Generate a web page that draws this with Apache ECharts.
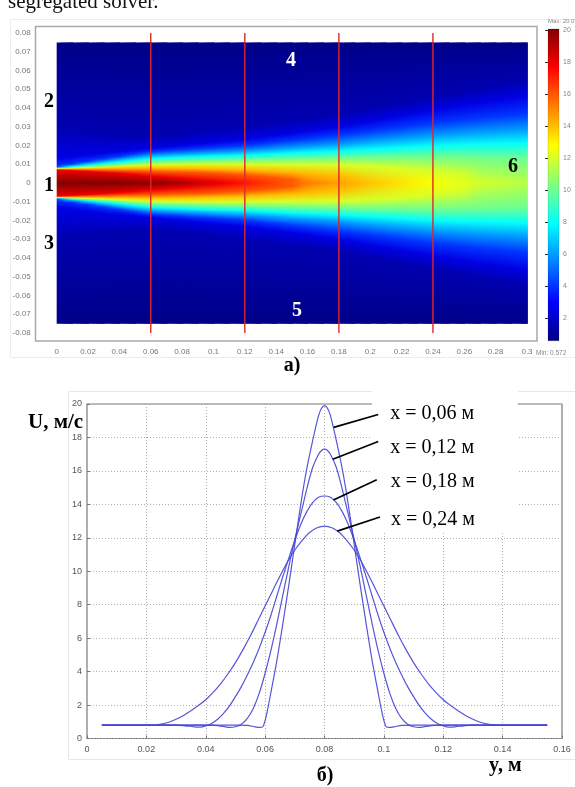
<!DOCTYPE html>
<html>
<head>
<meta charset="utf-8">
<script src="https://cdn.jsdelivr.net/npm/echarts@6/dist/echarts.min.js"></script>
<style>
html, body { margin: 0; padding: 0; background: #fff; }
#chart { width: 575px; height: 787px; }
</style>
</head>
<body>
<div id="chart"></div>
<script>
// (a) velocity field of a plane jet in a channel, (б) transverse velocity profiles U(y)

const U_MIN = 0.572;
const U_MAX = 20.07;
const HALF_HEIGHT = 0.075;   // channel half-height, m
const EDGE_U = 0.75;         // velocity near the channel walls, m/s

// ---- field (a): stations along the jet axis, m
const stationX = [0, 0.01, 0.02, 0.03, 0.04, 0.05, 0.06, 0.07, 0.08, 0.09, 0.10,
  0.11, 0.12, 0.13, 0.14, 0.15, 0.16, 0.17, 0.18, 0.19, 0.20,
  0.21, 0.22, 0.23, 0.24, 0.25, 0.26, 0.27, 0.28, 0.29, 0.30];
// centre-line velocity, m/s
const centerU = [20.0, 20.0, 20.0, 20.0, 20.0, 19.95, 19.9, 19.7, 19.3, 18.8, 18.3,
  17.8, 17.3, 16.8, 16.3, 15.8, 15.3, 14.9, 14.5, 14.2, 13.9,
  13.6, 13.3, 13.0, 12.7, 12.45, 12.2, 12.0, 11.8, 11.6, 11.4];
// half-width of the jet (mm) at which U falls to a given level; null = level not reached
const halfWidth18 = [7.0, 6.6, 6.2, 5.7, 5.2, 4.5, 3.7, 3.1, 2.4, 1.6, 0.8,
  null, null, null, null, null, null, null, null, null, null,
  null, null, null, null, null, null, null, null, null, null];
const halfWidth16 = [7.3, 7.1, 6.9, 6.7, 6.5, 6.3, 6.1, 5.9, 5.7, 5.5, 5.2,
  4.8, 4.3, 3.6, 2.7, 1.6, null, null, null, null, null,
  null, null, null, null, null, null, null, null, null, null];
const halfWidth14 = [7.5, 7.6, 7.7, 7.8, 7.9, 8.0, 8.0, 8.0, 7.9, 7.8, 7.6,
  7.4, 7.1, 6.8, 6.4, 5.9, 5.3, 4.7, 4.0, 2.4, null,
  null, null, null, null, null, null, null, null, null, null];
const halfWidth12 = [7.7, 8.0, 8.3, 8.6, 9.0, 9.4, 9.7, 9.9, 10.0, 10.1, 10.1,
  10.1, 10.0, 9.9, 9.8, 9.7, 9.7, 9.7, 9.6, 9.3, 8.9,
  8.5, 8.0, 7.3, 6.5, 5.5, 4.0, null, null, null, null];
const halfWidth10 = [7.9, 8.3, 8.8, 9.3, 9.9, 10.6, 11.3, 11.5, 11.7, 11.9, 12.1,
  12.3, 12.4, 12.6, 12.8, 13.0, 13.2, 13.3, 13.5, 13.6, 13.7,
  13.8, 13.9, 14.0, 14.1, 14.0, 13.9, 13.7, 13.4, 13.1, 12.8];
const halfWidth8 = [8.1, 8.8, 9.5, 10.3, 11.2, 12.1, 13.0, 13.3, 13.7, 14.0, 14.3,
  14.5, 14.7, 15.1, 15.5, 15.9, 16.3, 16.6, 17.0, 17.5, 17.9,
  18.4, 18.9, 19.3, 19.8, 20.1, 20.4, 20.6, 20.8, 21.0, 21.2];
const halfWidth6 = [8.3, 9.4, 10.5, 11.6, 12.7, 13.8, 14.8, 15.2, 15.6, 16.0, 16.4,
  16.7, 17.1, 17.7, 18.3, 18.9, 19.5, 20.1, 20.7, 21.5, 22.3,
  23.1, 23.8, 24.6, 25.4, 26.0, 26.6, 27.2, 27.7, 28.2, 28.7];
const halfWidth4 = [8.7, 10.1, 11.5, 12.8, 14.1, 15.4, 16.7, 17.2, 17.7, 18.3, 18.8,
  19.4, 19.9, 20.8, 21.8, 22.7, 23.6, 24.6, 25.5, 26.6, 27.7,
  28.8, 29.9, 31.0, 32.1, 33.0, 33.9, 34.8, 35.6, 36.4, 37.2];
const halfWidth2_5 = [13.0, 14.0, 15.0, 16.0, 16.8, 17.6, 18.4, 19.2, 20.0, 20.8, 21.6,
  22.4, 23.2, 24.3, 25.5, 26.6, 27.7, 28.9, 30.0, 31.5, 33.0,
  34.5, 36.0, 37.5, 39.0, 40.3, 41.6, 42.9, 44.1, 45.3, 46.5];
const halfWidth1_5 = [30, 29, 28, 27, 26, 25.5, 25, 25.5, 26.5, 27.5, 28.5,
  29.5, 30.5, 31.5, 32.5, 33.5, 34.5, 35.7, 37, 38.5, 40,
  41.5, 43, 44.5, 46, 47.5, 49, 50.5, 52, 53.5, 55];

// levels listed from the outside of the jet towards its axis
const contourLevels = [1.5, 2.5, 4, 6, 8, 10, 12, 14, 16, 18];
const contourHalfWidths = [halfWidth1_5, halfWidth2_5, halfWidth4, halfWidth6, halfWidth8,
  halfWidth10, halfWidth12, halfWidth14, halfWidth16, halfWidth18];

// cross-sections where the profiles were taken, m
const sectionX = [0.06, 0.12, 0.18, 0.24];

// ---- profiles (б): [y, U]
const profile006 = [[0.005,0.8],[0.030,0.8],[0.050,0.8],[0.054,0.79],[0.0565,0.7],[0.058,0.66],[0.0593,0.72],[0.0605,1.45],[0.062,2.8],[0.064,4.7],[0.066,6.9],[0.068,9.2],[0.070,11.6],[0.072,14.0],[0.074,16.1],[0.076,17.8],[0.078,19.3],[0.079,19.75],[0.080,19.9],[0.081,19.75],[0.082,19.3],[0.084,17.8],[0.086,16.1],[0.088,14.0],[0.090,11.6],[0.092,9.2],[0.094,6.9],[0.096,4.7],[0.098,2.8],[0.0995,1.45],[0.1007,0.72],[0.102,0.66],[0.1035,0.7],[0.106,0.79],[0.110,0.8],[0.130,0.8],[0.155,0.8]];
const profile012 = [[0.005,0.8],[0.030,0.8],[0.040,0.8],[0.043,0.79],[0.046,0.72],[0.048,0.66],[0.050,0.7],[0.052,0.85],[0.054,1.2],[0.056,1.8],[0.058,2.7],[0.060,3.9],[0.062,5.3],[0.064,6.9],[0.066,8.6],[0.068,10.3],[0.070,11.9],[0.072,13.4],[0.074,14.9],[0.076,16.2],[0.078,17.0],[0.079,17.22],[0.080,17.3],[0.081,17.22],[0.082,17.0],[0.084,16.2],[0.086,14.9],[0.088,13.4],[0.090,11.9],[0.092,10.3],[0.094,8.6],[0.096,6.9],[0.098,5.3],[0.100,3.9],[0.102,2.7],[0.104,1.8],[0.106,1.2],[0.108,0.85],[0.110,0.7],[0.112,0.66],[0.114,0.72],[0.117,0.79],[0.120,0.8],[0.140,0.8],[0.155,0.8]];
const profile018 = [[0.005,0.8],[0.020,0.8],[0.030,0.8],[0.033,0.76],[0.036,0.7],[0.038,0.68],[0.040,0.75],[0.042,0.9],[0.044,1.15],[0.046,1.5],[0.048,1.95],[0.050,2.5],[0.052,3.1],[0.054,3.8],[0.056,4.55],[0.058,5.4],[0.060,6.35],[0.062,7.4],[0.064,8.55],[0.066,9.7],[0.068,10.8],[0.070,11.85],[0.072,12.8],[0.074,13.55],[0.076,14.1],[0.078,14.42],[0.080,14.5],[0.082,14.42],[0.084,14.1],[0.086,13.55],[0.088,12.8],[0.090,11.85],[0.092,10.8],[0.094,9.7],[0.096,8.55],[0.098,7.4],[0.100,6.35],[0.102,5.4],[0.104,4.55],[0.106,3.8],[0.108,3.1],[0.110,2.5],[0.112,1.95],[0.114,1.5],[0.116,1.15],[0.118,0.9],[0.120,0.75],[0.122,0.68],[0.124,0.7],[0.127,0.76],[0.130,0.8],[0.140,0.8],[0.155,0.8]];
const profile024 = [[0.005,0.8],[0.018,0.8],[0.022,0.79],[0.025,0.86],[0.0275,0.97],[0.030,1.15],[0.0325,1.38],[0.035,1.66],[0.0375,1.97],[0.040,2.32],[0.0425,2.76],[0.045,3.27],[0.0475,3.87],[0.050,4.54],[0.0525,5.3],[0.055,6.13],[0.0575,7.02],[0.060,7.92],[0.0625,8.82],[0.065,9.71],[0.0675,10.55],[0.070,11.27],[0.0725,11.85],[0.075,12.32],[0.0775,12.6],[0.080,12.7],[0.0825,12.6],[0.085,12.32],[0.0875,11.85],[0.090,11.27],[0.0925,10.55],[0.095,9.71],[0.0975,8.82],[0.100,7.92],[0.1025,7.02],[0.105,6.13],[0.1075,5.3],[0.110,4.54],[0.1125,3.87],[0.115,3.27],[0.1175,2.76],[0.120,2.32],[0.1225,1.97],[0.125,1.66],[0.1275,1.38],[0.130,1.15],[0.1325,0.97],[0.135,0.86],[0.138,0.79],[0.142,0.8],[0.155,0.8]];

// leader lines from each curve to its caption: [point on curve, end near caption]
const leader006 = [[0.0831, 18.6], [0.0981, 19.37]];
const leader012 = [[0.0828, 16.7], [0.0981, 17.76]];
const leader018 = [[0.0830, 14.26], [0.0976, 15.47]];
const leader024 = [[0.0843, 12.4], [0.0987, 13.24]];
const leaderCaptions = ['x = 0,06 м', 'x = 0,12 м', 'x = 0,18 м', 'x = 0,24 м'];

// jet colour map over [U_MIN, U_MAX]
function jetColor(u) {
  const v = Math.min(1, Math.max(0, (u - U_MIN) / (U_MAX - U_MIN)));
  const c = k => Math.round(255 * Math.min(1, Math.max(0, 1.5 - Math.abs(4 * v - k))));
  return 'rgb(' + c(3) + ',' + c(2) + ',' + c(1) + ')';
}

// one row per station: [x, Uc, h(1.5) ... h(18)] with half-widths in metres, 0 = not reached
const fieldRows = stationX.map((x, i) => {
  const row = [x, centerU[i]];
  contourHalfWidths.forEach(arr => row.push(arr[i] == null ? 0 : arr[i] / 1000));
  return row;
});

// vertical colour profile of one station, wall to wall
function stationGradient(row) {
  const upper = [[HALF_HEIGHT, EDGE_U]];
  contourLevels.forEach((lvl, k) => {
    const h = row[2 + k];
    if (h > 0) upper.push([h, lvl]);
  });
  upper.push([0, row[1]]);
  const stops = [];
  upper.forEach(([y, u]) => stops.push({ offset: (HALF_HEIGHT - y) / (2 * HALF_HEIGHT), color: jetColor(u) }));
  for (let k = upper.length - 2; k >= 0; k--) {
    const [y, u] = upper[k];
    stops.push({ offset: (HALF_HEIGHT + y) / (2 * HALF_HEIGHT), color: jetColor(u) });
  }
  return new echarts.graphic.LinearGradient(0, 0, 0, 1, stops);
}

// each station paints the strip up to the next station, cross-fading into it
const FADE_STEPS = 6;
function renderFieldStrip(params, api) {
  const i = params.dataIndex;
  if (i >= fieldRows.length - 1) return null;
  const x0 = api.value(0);
  const x1 = fieldRows[i + 1][0];
  const pTop = api.coord([x0, HALF_HEIGHT]);
  const pBot = api.coord([x1, -HALF_HEIGHT]);
  const w = pBot[0] - pTop[0];
  const h = pBot[1] - pTop[1];
  const here = stationGradient(fieldRows[i]);
  const next = stationGradient(fieldRows[i + 1]);
  const children = [{
    type: 'rect',
    shape: { x: pTop[0], y: pTop[1], width: w + 0.8, height: h },
    style: { fill: here }
  }];
  for (let k = 0; k < FADE_STEPS; k++) {
    children.push({
      type: 'rect',
      shape: { x: pTop[0] + w * k / FADE_STEPS, y: pTop[1], width: w / FADE_STEPS + 0.6, height: h },
      style: { fill: next, opacity: (k + 0.5) / FADE_STEPS }
    });
  }
  return { type: 'group', children: children };
}

function renderSectionLine(params, api) {
  const x = api.value(0);
  const a = api.coord([x, 0.08]);
  const b = api.coord([x, -0.08]);
  return {
    type: 'line',
    shape: { x1: a[0], y1: a[1], x2: b[0], y2: b[1] },
    style: { stroke: '#e0262c', lineWidth: 1.4 }
  };
}

function renderScaleBar(params, api) {
  const a = api.coord([0, api.value(2)]);
  const b = api.coord([1, api.value(1)]);
  const stops = [1, 0.875, 0.625, 0.375, 0.125, 0].map(v => ({
    offset: 1 - v,
    color: jetColor(U_MIN + v * (U_MAX - U_MIN))
  }));
  return {
    type: 'rect',
    shape: { x: a[0], y: a[1], width: b[0] - a[0], height: b[1] - a[1] },
    style: { fill: new echarts.graphic.LinearGradient(0, 0, 0, 1, stops), stroke: 'rgba(0,0,0,0.25)', lineWidth: 0.5 }
  };
}

const SERIF = '"Liberation Serif", "Times New Roman", serif';
const SANS = '"Liberation Sans", Arial, sans-serif';
const CURVE_COLOR = '#4646d6';

function profileSeries(data) {
  return {
    type: 'line', xAxisIndex: 2, yAxisIndex: 2, data: data,
    showSymbol: false, smooth: 0.25, silent: true,
    lineStyle: { color: CURVE_COLOR, width: 1.2, opacity: 0.92 }
  };
}

function leaderSeries(data, caption, dx, dy) {
  return {
    type: 'line', xAxisIndex: 2, yAxisIndex: 2, data: data,
    showSymbol: false, silent: true, z: 5,
    lineStyle: { color: '#000', width: 1.7 },
    endLabel: {
      show: true, formatter: caption, distance: dx, offset: [0, dy],
      fontFamily: SERIF, fontSize: 20, color: '#000'
    }
  };
}

const chart = echarts.init(document.getElementById('chart'), null, { renderer: 'canvas' });

chart.setOption({
  animation: false,
  textStyle: { fontFamily: SANS },
  grid: [
    { left: 56.7, top: 33, width: 470.3, height: 300 },
    { left: 548, top: 30, width: 11, height: 320 },
    { left: 87, top: 404, width: 475, height: 334.5, show: true, borderColor: '#7a7a7a', borderWidth: 1.2, backgroundColor: 'transparent' }
  ],
  xAxis: [
    {
      gridIndex: 0, type: 'value', min: 0, max: 0.3, interval: 0.02,
      axisLine: { show: false }, axisTick: { show: false }, splitLine: { show: false },
      axisLabel: { fontSize: 8, color: '#777', margin: 15 }
    },
    { gridIndex: 1, type: 'value', min: 0, max: 1, show: false },
    {
      gridIndex: 2, type: 'value', min: 0, max: 0.16, interval: 0.02,
      axisLine: { show: false },
      axisTick: { show: true, inside: true, length: 3, lineStyle: { color: '#777' } },
      splitLine: { show: true, lineStyle: { color: '#b0b0b0', type: [1, 2], width: 1 } },
      axisLabel: { fontSize: 9, color: '#555', margin: 7 }
    }
  ],
  yAxis: [
    {
      gridIndex: 0, type: 'value', min: -0.08, max: 0.08, interval: 0.01,
      axisLine: { show: false }, axisTick: { show: false }, splitLine: { show: false },
      axisLabel: { fontSize: 8, color: '#777', margin: 26 }
    },
    {
      gridIndex: 1, type: 'value', min: 0, max: 20, interval: 2, position: 'right',
      axisLine: { show: false },
      axisTick: { show: true, inside: true, length: 3, lineStyle: { color: '#333' } },
      splitLine: { show: false },
      axisLabel: { fontSize: 7, color: '#888', margin: 4, showMinLabel: false }
    },
    {
      gridIndex: 2, type: 'value', min: 0, max: 20, interval: 2,
      axisLine: { show: false },
      axisTick: { show: true, inside: true, length: 3, lineStyle: { color: '#777' } },
      splitLine: { show: true, lineStyle: { color: '#b0b0b0', type: [1, 2], width: 1 } },
      axisLabel: { fontSize: 9, color: '#555', margin: 5 }
    }
  ],
  series: [
    {
      type: 'custom', xAxisIndex: 0, yAxisIndex: 0, data: fieldRows,
      encode: { x: 0, y: 1 }, renderItem: renderFieldStrip, silent: true, clip: false
    },
    {
      type: 'custom', xAxisIndex: 0, yAxisIndex: 0, data: sectionX.map(x => [x, 0]),
      renderItem: renderSectionLine, silent: true, z: 3
    },
    {
      type: 'custom', xAxisIndex: 1, yAxisIndex: 1, data: [[0, U_MIN, U_MAX]],
      encode: { x: 0, y: 1 }, renderItem: renderScaleBar, silent: true, clip: false
    },
    profileSeries(profile006),
    profileSeries(profile012),
    profileSeries(profile018),
    profileSeries(profile024),
    leaderSeries(leader006, leaderCaptions[0], 12, -1),
    leaderSeries(leader012, leaderCaptions[1], 12, 6),
    leaderSeries(leader018, leaderCaptions[2], 14, 1.5),
    leaderSeries(leader024, leaderCaptions[3], 11, 2.5)
  ],
  graphic: [
    // outlines of the two figure panels
    { type: 'rect', z: 0, shape: { x: 10.5, y: 19.5, width: 570, height: 338 }, style: { fill: 'none', stroke: '#ececec', lineWidth: 1 } },
    { type: 'rect', z: 0, shape: { x: 35.5, y: 26.5, width: 501.5, height: 314.5 }, style: { fill: 'none', stroke: '#a8a8a8', lineWidth: 1.5 } },
    { type: 'rect', z: 0, shape: { x: 68.5, y: 391.5, width: 520, height: 368 }, style: { fill: 'none', stroke: '#e8e8e8', lineWidth: 1 } },
    // white plate behind the curve captions
    { type: 'rect', z: 1, shape: { x: 372, y: 389, width: 146, height: 142 }, style: { fill: '#fff' } },

    { type: 'text', z: 10, x: 8, y: 2, style: { text: 'segregated solver.', font: '21px ' + SERIF, fill: '#111', verticalAlign: 'middle' } },

    { type: 'text', z: 10, x: 49, y: 102, style: { text: '2', font: 'bold 20px ' + SERIF, fill: '#000', align: 'center', verticalAlign: 'middle' } },
    { type: 'text', z: 10, x: 49, y: 186, style: { text: '1', font: 'bold 20px ' + SERIF, fill: '#000', align: 'center', verticalAlign: 'middle' } },
    { type: 'text', z: 10, x: 49, y: 244, style: { text: '3', font: 'bold 20px ' + SERIF, fill: '#000', align: 'center', verticalAlign: 'middle' } },
    { type: 'text', z: 10, x: 291, y: 61, style: { text: '4', font: 'bold 20px ' + SERIF, fill: '#fff', align: 'center', verticalAlign: 'middle' } },
    { type: 'text', z: 10, x: 297, y: 311, style: { text: '5', font: 'bold 20px ' + SERIF, fill: '#fff', align: 'center', verticalAlign: 'middle' } },
    { type: 'text', z: 10, x: 513, y: 167, style: { text: '6', font: 'bold 20px ' + SERIF, fill: '#000', align: 'center', verticalAlign: 'middle' } },
    { type: 'text', z: 10, x: 292, y: 366, style: { text: 'a)', font: 'bold 20px ' + SERIF, fill: '#000', align: 'center', verticalAlign: 'middle' } },

    { type: 'text', z: 10, x: 548, y: 21, style: { text: 'Max: 20.07', font: '6px ' + SANS, fill: '#888', verticalAlign: 'middle' } },
    { type: 'text', z: 10, x: 536, y: 353, style: { text: 'Min: 0.572', font: '6.5px ' + SANS, fill: '#888', verticalAlign: 'middle' } },

    { type: 'text', z: 10, x: 28, y: 423, style: { text: 'U, м/с', font: 'bold 21px ' + SERIF, fill: '#000', verticalAlign: 'middle' } },
    { type: 'text', z: 10, x: 489, y: 766, style: { text: 'y, м', font: 'bold 20px ' + SERIF, fill: '#000', verticalAlign: 'middle' } },
    { type: 'text', z: 10, x: 325, y: 776, style: { text: 'б)', font: 'bold 20px ' + SERIF, fill: '#000', align: 'center', verticalAlign: 'middle' } }
  ]
});
</script>
</body>
</html>
